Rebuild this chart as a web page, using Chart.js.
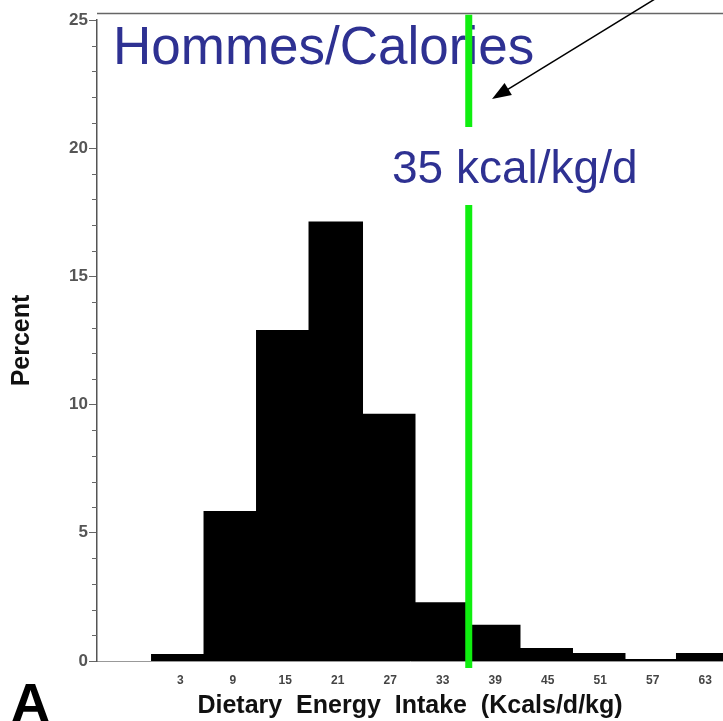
<!DOCTYPE html>
<html>
<head>
<meta charset="utf-8">
<script src="https://cdn.jsdelivr.net/npm/chart.js@4.4.1/dist/chart.umd.min.js"></script>
<style>
  html, body { margin: 0; padding: 0; background: #fff; }
  #wrap { width: 723px; height: 721px; }
</style>
</head>
<body>
<div id="wrap"><canvas id="histo" width="723" height="721"></canvas></div>
<script>
// Données de l'histogramme
const binCenters = [3, 9, 15, 21, 27, 33, 39, 45, 51, 57, 63];
const percentValues = [0.23, 5.81, 12.87, 17.1, 9.6, 2.25, 1.37, 0.47, 0.27, 0.04, 0.27];
const xTickLabels = [3, 9, 15, 21, 27, 33, 39, 45, 51, 57, 63];
const yTickLabels = [0, 5, 10, 15, 20, 25];

// Seuil marqué par la ligne verte
const seuilX = 36.2;
const titreTexte = 'Hommes/Calories';
const seuilTexte = '35 kcal/kg/d';

const FONT = "'Liberation Sans', Arial, Helvetica, sans-serif";
const BLEU = '#2e3192';
const VERT = '#10ee10';

// Plugin pour les annotations (ligne verte, textes, flèche, cadre)
const annotations = {
    id: 'annotations',
    afterDraw(chart) {
        const { ctx, chartArea, scales } = chart;
        const x = scales.x, y = scales.y;
        ctx.save();

        // cadre du haut
        ctx.strokeStyle = '#666';
        ctx.lineWidth = 1.5;
        ctx.beginPath();
        ctx.moveTo(chartArea.left, y.getPixelForValue(25.25));
        ctx.lineTo(chart.width, y.getPixelForValue(25.25));
        ctx.stroke();

        // petites graduations
        ctx.strokeStyle = '#666';
        ctx.lineWidth = 1;
        for (let v = 0; v <= 25; v++) {
            if (v % 5 === 0) continue;
            const py = Math.round(y.getPixelForValue(v)) + 0.5;
            ctx.beginPath();
            ctx.moveTo(chartArea.left - 5, py);
            ctx.lineTo(chartArea.left, py);
            ctx.stroke();
        }

        // textes bleus
        ctx.fillStyle = BLEU;
        ctx.textBaseline = 'alphabetic';
        ctx.textAlign = 'left';
        ctx.font = '53px ' + FONT;
        ctx.fillText(titreTexte, x.getPixelForValue(-4.46), y.getPixelForValue(23.28));
        ctx.font = '46px ' + FONT;
        ctx.fillText(seuilTexte, x.getPixelForValue(27.43), y.getPixelForValue(18.64));

        // ligne verte (interrompue autour du texte)
        const gx = x.getPixelForValue(seuilX);
        ctx.strokeStyle = VERT;
        ctx.lineWidth = 7;
        ctx.beginPath();
        ctx.moveTo(gx, y.getPixelForValue(25.2));
        ctx.lineTo(gx, y.getPixelForValue(20.83));
        ctx.moveTo(gx, y.getPixelForValue(17.78));
        ctx.lineTo(gx, y.getPixelForValue(-0.27));
        ctx.stroke();

        // flèche
        const x0 = x.getPixelForValue(58.06), y0 = y.getPixelForValue(25.94);
        const x1 = x.getPixelForValue(38.86), y1 = y.getPixelForValue(21.92);
        const ang = Math.atan2(y1 - y0, x1 - x0);
        const len = 19, half = 7;
        ctx.strokeStyle = '#000';
        ctx.fillStyle = '#000';
        ctx.lineWidth = 1.5;
        ctx.beginPath();
        ctx.moveTo(x0, y0);
        ctx.lineTo(x1 - Math.cos(ang) * len * 0.8, y1 - Math.sin(ang) * len * 0.8);
        ctx.stroke();
        ctx.beginPath();
        ctx.moveTo(x1, y1);
        ctx.lineTo(x1 - Math.cos(ang) * len + Math.sin(ang) * half, y1 - Math.sin(ang) * len - Math.cos(ang) * half);
        ctx.lineTo(x1 - Math.cos(ang) * len - Math.sin(ang) * half, y1 - Math.sin(ang) * len + Math.cos(ang) * half);
        ctx.closePath();
        ctx.fill();

        // lettre du panneau
        ctx.fillStyle = '#000';
        ctx.font = 'bold 54px ' + FONT;
        ctx.fillText('A', 11, 721);

        ctx.restore();
    }
};

const ctx = document.getElementById('histo').getContext('2d');

const chart = new Chart(ctx, {
    type: 'bar',
    data: {
        datasets: [{
            label: 'Percent',
            data: binCenters.map((c, i) => ({ x: c, y: percentValues[i] })),
            backgroundColor: '#000',
            borderWidth: 0,
            inflateAmount: 1,
            barPercentage: 1,
            categoryPercentage: 1
        }]
    },
    options: {
        responsive: false,
        animation: false,
        layout: { padding: { top: 20, left: 0, right: 0, bottom: 0 } },
        plugins: {
            legend: { display: false },
            tooltip: { enabled: false }
        },
        scales: {
            x: {
                type: 'linear',
                min: -6.29,
                max: 65.26,
                offset: false,
                afterFit: (scale) => { scale.height = 60; },
                afterBuildTicks: (scale) => {
                    scale.ticks = xTickLabels.map(v => ({ value: v }));
                },
                grid: { display: false, drawTicks: false },
                border: { display: true, color: '#999', width: 1 },
                ticks: {
                    autoSkip: false,
                    maxRotation: 0,
                    padding: 12,
                    labelOffset: 2,
                    color: '#444',
                    font: { family: FONT, size: 12, weight: 'bold' },
                    callback: (v) => String(v)
                },
                title: {
                    display: true,
                    text: 'Dietary  Energy  Intake  (Kcals/d/kg)',
                    color: '#111',
                    font: { family: FONT, size: 25, weight: 'bold' },
                    padding: { top: 0, bottom: 0 }
                }
            },
            y: {
                min: 0,
                max: 25,
                afterFit: (scale) => { scale.width = 97; },
                ticks: {
                    stepSize: 1,
                    padding: 1,
                    color: '#555',
                    font: { family: FONT, size: 17, weight: 'bold' },
                    callback: (v) => yTickLabels.includes(v) ? String(v) : ''
                },
                grid: {
                    drawOnChartArea: false,
                    tickLength: 8,
                    tickColor: (c) => (c.tick && c.tick.value % 5 === 0) ? '#666' : 'rgba(0,0,0,0)'
                },
                border: { display: true, color: '#555', width: 1.5 },
                title: {
                    display: true,
                    text: 'Percent',
                    color: '#111',
                    font: { family: FONT, size: 25, weight: 'bold' },
                    padding: { top: 7, bottom: 0 }
                }
            }
        }
    },
    plugins: [annotations]
});
</script>
</body>
</html>
